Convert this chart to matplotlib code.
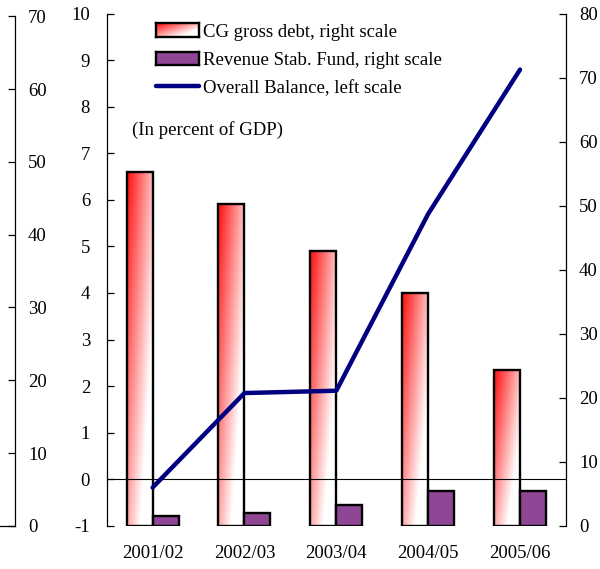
import numpy as np
import matplotlib
matplotlib.use("Agg")
import matplotlib.pyplot as plt
from matplotlib.lines import Line2D

# Data (percent of GDP)
periods = ["2001/02", "2002/03", "2003/04", "2004/05", "2005/06"]
cg_gross_debt = [55.2, 50.2, 43.0, 36.3, 24.3]        # right scale
revenue_stab_fund = [1.5, 2.0, 3.3, 5.5, 5.4]         # right scale
overall_balance = [-0.18, 1.85, 1.9, 5.7, 8.8]        # left scale
left_ticks = list(range(-1, 11))
right_ticks = list(range(0, 81, 10))
outer_ticks = list(range(0, 71, 10))

plt.rcParams["font.family"] = ["Liberation Serif", "DejaVu Serif"]
plt.rcParams["font.size"] = 13.5
plt.rcParams["axes.unicode_minus"] = False

PURPLE = "#8F4795"
NAVY = "#000080"


def red_gradient(nx=64, ny=160):
    u = np.linspace(0, 1, nx)[None, :]
    v = np.linspace(0, 1, ny)[:, None]          # 0 = bottom, 1 = top
    w = np.clip(0.68 * u + 0.6 * (1 - v) + 0.05, 0, 1)
    return np.dstack([np.ones_like(w), w, w])


fig = plt.figure(figsize=(6, 5.69), dpi=100)
ax = fig.add_axes([0.1778, 0.0761, 0.7655, 0.8998])
ax2 = ax.twinx()
ax.set_zorder(ax2.get_zorder() + 1)
ax.patch.set_visible(False)

n = len(periods)
x = np.arange(n)
bw = 0.283

# Bars on the right scale
debt_bars = ax2.bar(x - bw / 2, cg_gross_debt, width=bw, facecolor="none",
                    edgecolor="black", linewidth=1.7, zorder=3)
grad = red_gradient()
for rect in debt_bars:
    x0, h = rect.get_x(), rect.get_height()
    ax2.imshow(grad, extent=(x0, x0 + rect.get_width(), 0, h), origin="lower",
               aspect="auto", interpolation="bilinear", zorder=2)
ax2.bar(x + bw / 2, revenue_stab_fund, width=bw, facecolor=PURPLE,
        edgecolor="black", linewidth=1.7, zorder=3)

ax2.set_xlim(-0.5, n - 0.5)
ax2.set_ylim(0, 80)
ax2.set_yticks(right_ticks)

# Line on the left scale
ax.axhline(0, color="black", linewidth=0.8, zorder=1)
ax.plot(x, overall_balance, color=NAVY, linewidth=3.2,
        solid_capstyle="round", zorder=4)
ax.set_xlim(-0.5, n - 0.5)
ax.set_ylim(-1, 10)
ax.set_yticks(left_ticks)
ax.set_xticks(x, periods)

for s in ("top", "bottom", "right"):
    ax.spines[s].set_visible(False)
for s in ("top", "bottom", "left"):
    ax2.spines[s].set_visible(False)
ax.spines["left"].set_linewidth(0.9)
ax2.spines["right"].set_linewidth(0.9)

ax.tick_params(axis="y", direction="in", length=4.8, width=0.9, pad=12)
ax.tick_params(axis="x", length=0, pad=14)
ax2.tick_params(axis="y", direction="in", length=4.8, width=0.9, pad=9.4)

# Outer scale at the far left
ax3 = fig.add_axes([0.0, 0.0759, 0.025, 0.8956])
ax3.patch.set_visible(False)
ax3.set_xlim(0, 1)
ax3.set_ylim(0, 70)
ax3.set_xticks([])
ax3.yaxis.tick_right()
ax3.set_yticks(outer_ticks)
ax3.tick_params(axis="y", direction="in", length=4.8, width=0.9, pad=9.4)
for s in ("top", "left"):
    ax3.spines[s].set_visible(False)
ax3.spines["right"].set_linewidth(0.9)
ax3.spines["bottom"].set_linewidth(0.9)

# Legend
h1 = ax.inset_axes([0.107, 0.954, 0.094, 0.027])
h1.imshow(red_gradient(48, 16), origin="lower", aspect="auto",
          interpolation="bilinear")
h2 = ax.inset_axes([0.107, 0.899, 0.094, 0.026])
h2.set_facecolor(PURPLE)
for h in (h1, h2):
    h.set_xticks([])
    h.set_yticks([])
    for sp in h.spines.values():
        sp.set_linewidth(1.7)
        sp.set_color("black")
ax.add_line(Line2D([0.107, 0.201], [0.859, 0.859], transform=ax.transAxes,
                   color=NAVY, linewidth=3.2, solid_capstyle="round"))
ax.text(0.2107, 0.955, "CG gross debt, right scale", transform=ax.transAxes,
        va="baseline", ha="left")
ax.text(0.2107, 0.900, "Revenue Stab. Fund, right scale",
        transform=ax.transAxes, va="baseline", ha="left")
ax.text(0.2107, 0.8445, "Overall Balance, left scale", transform=ax.transAxes,
        va="baseline", ha="left")
ax.text(0.0544, 0.763, "(In percent of GDP)", transform=ax.transAxes,
        va="baseline", ha="left")

fig.savefig("out.png", dpi=100)
